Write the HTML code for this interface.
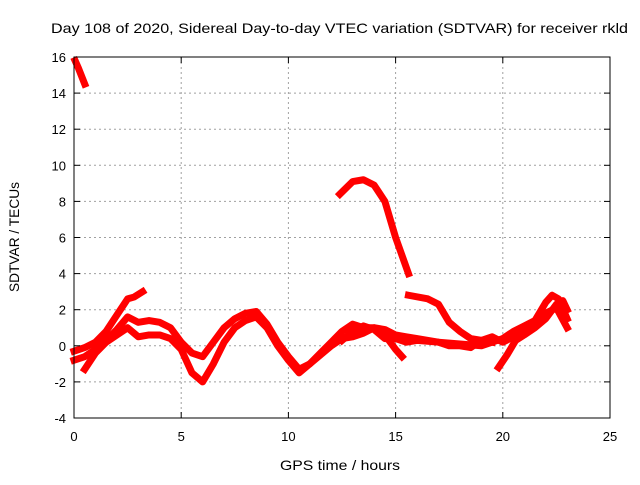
<!DOCTYPE html>
<html><head><meta charset="utf-8"><style>
body{margin:0;background:#fff;}
svg text{font-family:"Liberation Sans",sans-serif;fill:#000;}
</style></head><body>
<svg id="chart" width="640" height="480" xmlns="http://www.w3.org/2000/svg">
<text x="51" y="33" font-size="14" textLength="577" lengthAdjust="spacingAndGlyphs">Day 108 of 2020, Sidereal Day-to-day VTEC variation (SDTVAR) for receiver rkld</text>
<text x="340" y="470" font-size="14" text-anchor="middle" textLength="120" lengthAdjust="spacingAndGlyphs">GPS time / hours</text>
<text transform="translate(19,237) rotate(-90)" font-size="14" text-anchor="middle" textLength="110" lengthAdjust="spacingAndGlyphs">SDTVAR / TECUs</text>
<g id="grid"></g><g id="series"></g><g id="axes"></g>
</svg>
<script>
const xTicks=[0,5,10,15,20,25];
const yTicks=[-4,-2,0,2,4,6,8,10,12,14,16];
const s1=[[0,-0.3],[0.5,-0.1],[1,0.2],[1.5,0.8],[2,1.7],[2.5,2.6],[2.8,2.7],[3.2,3.0]];
const s2=[[0,-0.8],[0.5,-0.6],[1,-0.2],[1.5,0.3],[2,0.9],[2.5,1.6],[3,1.3],[3.5,1.4],[4,1.3],[4.5,1.0],[5,0.2],[5.5,-0.4],[6,-0.6],[6.5,0.2],[7,1.0],[7.5,1.5],[8,1.8],[8.5,1.9],[9,1.2],[9.5,0.2],[10,-0.6],[10.5,-1.3],[11,-1.0],[11.5,-0.4],[12,0.2],[12.5,0.8],[13,1.2],[13.5,1.0],[14,1.0],[14.5,0.9],[15,0.6],[15.5,0.5],[16,0.4],[17,0.2],[18,0.1],[19,0.0],[19.5,0.2],[20,0.4],[20.5,0.8],[21,1.1],[21.5,1.4],[22,2.4],[22.3,2.8],[22.6,2.6],[23,1.5]];
const s3=[[0.5,-1.3],[1,-0.4],[1.5,0.2],[2,0.6],[2.5,1.0],[3,0.5],[3.5,0.6],[4,0.6],[4.5,0.4],[5,-0.2],[5.5,-1.5],[6,-2.0],[6.5,-1.0],[7,0.2],[7.5,1.0],[8,1.4],[8.5,1.6],[9,1.0],[9.5,0.0],[10,-0.8],[10.5,-1.5],[11,-1.0],[11.5,-0.5],[12,0.0],[12.5,0.4],[13,0.5],[13.5,0.7],[14,1.0],[14.5,0.6],[15,-0.2],[15.3,-0.6]];
const s4=[[12.5,0.3],[13,0.8],[13.5,1.1],[14,0.9],[14.5,0.4],[15,0.4],[15.5,0.2],[16,0.3],[17,0.2],[17.5,0.0],[18,0.0],[18.5,-0.1],[19,0.3],[19.5,0.5],[20,0.2],[20.5,0.5],[21,0.8],[21.5,1.3],[22,1.8],[22.5,2.1],[23,1.0]];
const s5=[[19.8,-1.2],[20.2,-0.5],[20.6,0.3],[21,0.6],[21.5,1.0],[22,1.5],[22.5,2.3],[22.8,2.5],[23,2.0]];
const s6=[[15.6,2.8],[16.5,2.6],[17,2.3],[17.5,1.3],[18,0.8],[18.5,0.4],[19,0.3],[19.5,0.2]];
const s7=[[0.05,15.8],[0.2,15.4],[0.5,14.5]];
const s8=[[12.4,8.4],[13,9.1],[13.5,9.2],[14,8.9],[14.5,8.0],[15,6.0],[15.6,4.0]];
const allSeries=[s1,s2,s3,s4,s5,s6,s7,s8];
const X0=74,X1=610,Y0=418,Y1=57;
const xs=h=>X0+(h-0)/25*(X1-X0);
const ys=v=>Y0-(v+4)/20*(Y0-Y1);
const NS="http://www.w3.org/2000/svg";
const grid=document.getElementById('grid'),axes=document.getElementById('axes'),ser=document.getElementById('series');
function mk(tag,at,parent){const e=document.createElementNS(NS,tag);for(const k in at)e.setAttribute(k,at[k]);parent.appendChild(e);return e;}
xTicks.forEach(t=>{const x=xs(t);
 if(t>0&&t<25){const g=mk('line',{x1:x,x2:x,y1:Y1,y2:Y0,stroke:'#a0a0a0','stroke-dasharray':'2,3'},grid);
 
 }
 mk('line',{x1:x,x2:x,y1:Y0,y2:Y0-6,stroke:'#000'},axes);mk('line',{x1:x,x2:x,y1:Y1,y2:Y1+6,stroke:'#000'},axes);
 const tx=mk('text',{x:x,y:Y0+23,'font-size':13,'text-anchor':'middle'},axes);tx.textContent=t;
 
 });
yTicks.forEach(t=>{const y=ys(t);
 if(t>-4&&t<16){const g=mk('line',{x1:X0,x2:X1,y1:y,y2:y,stroke:'#a0a0a0','stroke-dasharray':'2,3'},grid);
 
 }
 mk('line',{x1:X0,x2:X0+6,y1:y,y2:y,stroke:'#000'},axes);mk('line',{x1:X1,x2:X1-6,y1:y,y2:y,stroke:'#000'},axes);
 const tx=mk('text',{x:X0-8,y:y+5,'font-size':13,'text-anchor':'end'},axes);tx.textContent=t;
 
 });
const fr=mk('rect',{x:X0,y:Y1,width:X1-X0,height:Y0-Y1,fill:'none',stroke:'#000'},axes);


allSeries.forEach((s,i)=>{const p=mk('polyline',{points:s.map(d=>xs(d[0])+','+ys(d[1])).join(' '),fill:'none',stroke:'#ff0000','stroke-width':7,'stroke-linejoin':'round','stroke-linecap':'square'},ser);
 
 });
</script>
</body></html>
